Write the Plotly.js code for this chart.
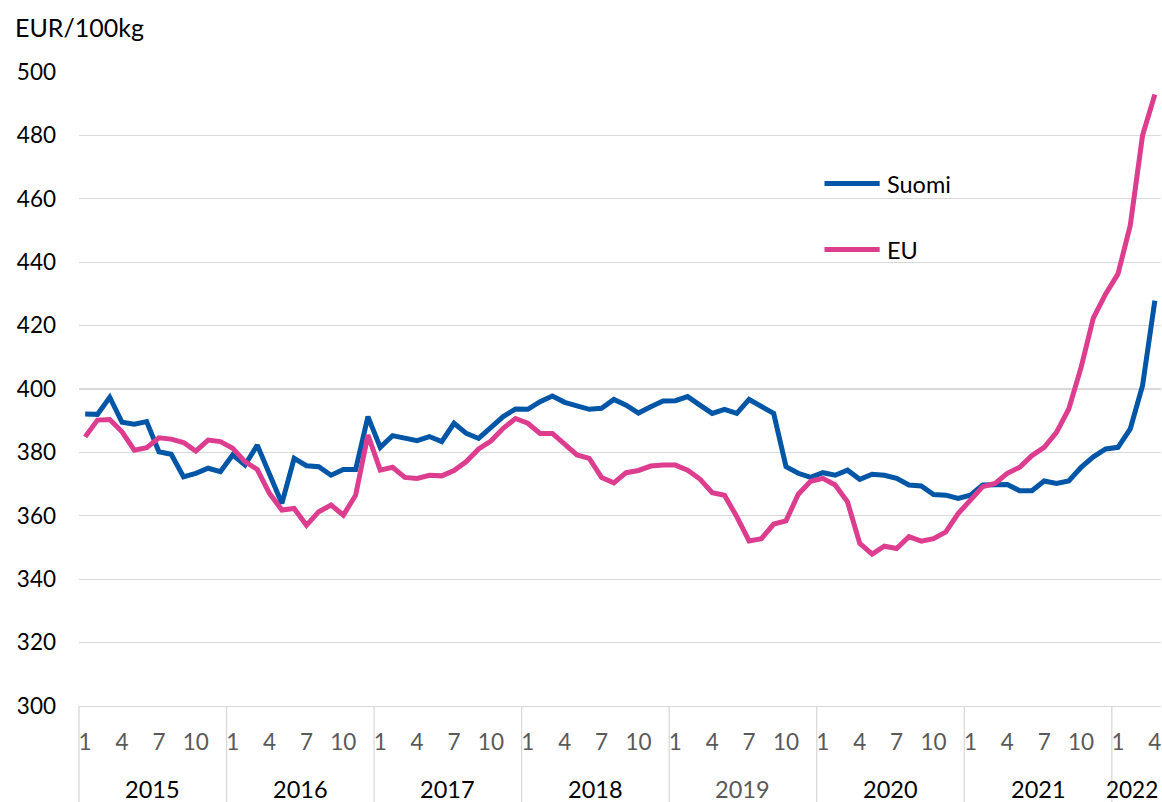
<!DOCTYPE html>
<html>
<head>
<meta charset="utf-8">
<script src="https://cdn.plot.ly/plotly-3.0.1.min.js"></script>
<style>html,body{margin:0;padding:0;background:#fff;}#chart{width:1162px;height:802px;}</style>
</head>
<body>
<div id="chart"></div>
<script>
// ---- data ----
const years = [2015, 2016, 2017, 2018, 2019, 2020, 2021, 2022];
const monthsInYear = [12, 12, 12, 12, 12, 12, 12, 4];
const monthTickLabels = [1, 4, 7, 10];
const suomi = [
  392.1, 392.0, 397.4, 389.5, 388.9, 389.7, 380.2, 379.4, 372.3, 373.4, 375.0, 373.9,
  379.2, 376.0, 382.3, 373.0, 363.9, 378.1, 375.8, 375.5, 372.8, 374.6, 374.6, 391.3,
  381.6, 385.3, 384.4, 383.7, 385.0, 383.4, 389.2, 386.0, 384.4, 388.1, 391.3, 393.7,
  393.6, 396.0, 397.8, 395.8, 394.9, 393.6, 393.9, 396.7, 394.9, 392.4, 394.4, 396.2,
  396.3, 397.6, 394.9, 392.3, 393.6, 392.3, 396.7, 394.6, 392.3, 375.5, 373.4, 372.1,
  373.6, 372.8, 374.4, 371.5, 373.1, 372.8, 371.8, 369.7, 369.4, 366.7, 366.5, 365.5,
  366.5, 369.7, 369.7, 369.9, 367.9, 367.9, 371.0, 370.2, 371.0, 375.3, 378.6, 381.1,
  381.6, 387.4, 401.1, 427.9
];
const eu = [
  384.9, 390.2, 390.4, 386.5, 380.7, 381.5, 384.6, 384.2, 383.1, 380.4, 383.9, 383.4,
  381.3, 377.1, 374.6, 367.0, 361.8, 362.3, 357.0, 361.3, 363.4, 360.2, 366.5, 385.5,
  374.4, 375.3, 372.1, 371.8, 372.8, 372.6, 374.3, 377.1, 381.1, 383.6, 387.6, 390.7,
  389.2, 386.0, 386.0, 382.8, 379.2, 378.1, 372.1, 370.4, 373.6, 374.3, 375.7, 376.0,
  376.0, 374.4, 371.6, 367.3, 366.5, 359.7, 352.1, 352.8, 357.4, 358.4, 366.8, 370.9,
  371.8, 369.7, 364.4, 351.3, 347.9, 350.4, 349.7, 353.4, 352.0, 352.8, 354.9, 360.7,
  364.9, 369.2, 370.2, 373.4, 375.3, 379.0, 381.6, 386.3, 393.7, 406.8, 422.4, 430.0,
  436.3, 451.6, 480.0, 492.9
];
const seriesNames = ['Suomi', 'EU'];

// ---- build ----
const FONT = 'Lato, "Open Sans", sans-serif';
const blue = '#0056a6', pink = '#dc3d8f';
const N = suomi.length;
const xs = suomi.map((_, i) => i);

const tickvals = [], ticktext = [];
let idx = 0;
years.forEach((y, k) => {
  for (let m = 1; m <= monthsInYear[k]; m++) {
    if (monthTickLabels.includes(m)) { tickvals.push(idx); ticktext.push(String(m)); }
    idx++;
  }
});

const shapes = [], annotations = [];
let start = 0;
years.forEach((y, k) => {
  const end = start + monthsInYear[k];
  const isLast = k === years.length - 1;
  shapes.push({type: 'line', xref: 'paper', yref: 'paper', x0: start / N, x1: start / N,
    y0: 0, y1: -0.155, line: {color: '#d9d9d9', width: 1.3}});
  annotations.push({xref: 'paper', yref: 'paper', x: (start + end) / 2 / N, y: -0.131,
    xshift: isLast ? -4 : 0,
    text: String(y), showarrow: false, xanchor: 'center', yanchor: 'middle',
    font: {family: FONT, size: isLast ? 22.5 : 23.5, color: y === 2019 ? '#595959' : '#000'}});
  start = end;
});

// legend drawn manually
const legendItems = [
  {name: seriesNames[0], color: blue, y: 0.824},
  {name: seriesNames[1], color: pink, y: 0.720}
];
legendItems.forEach(it => {
  shapes.push({type: 'line', xref: 'paper', yref: 'paper', x0: 0.689, x1: 0.740,
    y0: it.y, y1: it.y, line: {color: it.color, width: 5}});
  annotations.push({xref: 'paper', yref: 'paper', x: 0.745, y: it.y, text: it.name,
    showarrow: false, xanchor: 'left', yanchor: 'middle',
    font: {family: FONT, size: 23.5, color: '#000'}});
});

annotations.push({xref: 'paper', yref: 'paper', x: -0.061, y: 1.071, text: 'EUR/100kg',
  showarrow: false, xanchor: 'left', yanchor: 'middle',
  font: {family: FONT, size: 25, color: '#000'}});

const traces = [
  {x: xs, y: suomi, name: seriesNames[0], type: 'scatter', mode: 'lines',
   line: {color: blue, width: 5, shape: 'linear'}},
  {x: xs, y: eu, name: seriesNames[1], type: 'scatter', mode: 'lines',
   line: {color: pink, width: 5, shape: 'linear'}}
];

const layout = {
  width: 1162, height: 802,
  margin: {l: 79, r: 1, t: 72, b: 96},
  paper_bgcolor: '#fff', plot_bgcolor: '#fff',
  showlegend: false,
  font: {family: FONT, size: 22, color: '#000'},
  xaxis: {
    range: [-0.5, N - 0.5], showgrid: false, zeroline: false,
    showline: true, linecolor: '#d9d9d9', linewidth: 1.3,
    tickmode: 'array', tickvals: tickvals, ticktext: ticktext,
    ticks: '', ticklabelstandoff: 16,
    tickfont: {family: FONT, size: 22.5, color: '#595959'}
  },
  yaxis: {
    range: [300, 500], dtick: 20, tick0: 300, tickmode: 'linear',
    showgrid: true, gridcolor: '#d9d9d9', gridwidth: 1.3,
    zeroline: false, showline: false, ticks: '', ticklabelstandoff: 22,
    tickfont: {family: FONT, size: 22.5, color: '#000'}
  },
  shapes: shapes,
  annotations: annotations
};

Plotly.newPlot('chart', traces, layout, {staticPlot: true, displayModeBar: false});
</script>
</body>
</html>
